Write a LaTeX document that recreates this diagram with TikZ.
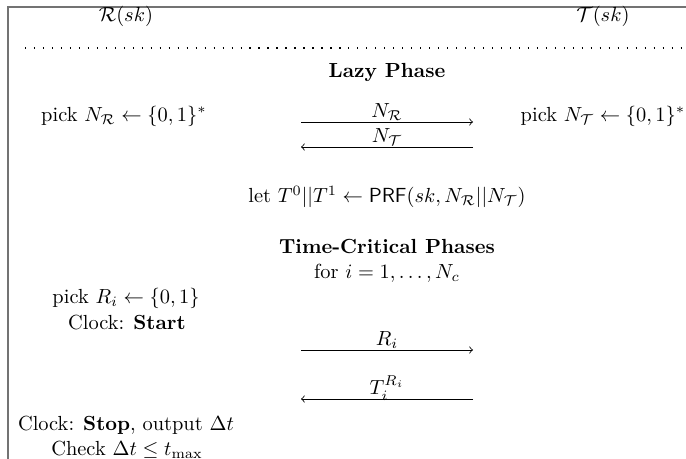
\documentclass[tikz,border=0pt]{standalone}
\usepackage{amsmath,amssymb}
\begin{document}
\begin{tikzpicture}[x=0.49pt,y=-0.49pt,
  lbl/.style={inner sep=0pt, anchor=center},
  msg/.style={->, line width=0.4pt},
  msglbl/.style={midway, anchor=base, yshift=2pt, inner sep=0pt},
  framebox/.style={draw=black!55, line width=1pt},
  dotrule/.style={line width=0.6pt, dash pattern=on 0.6pt off 3.8pt}]
\useasboundingbox (0,0) rectangle (686,459);
\draw[framebox] (8,459) -- (8,7) -- (686,7);
\node[lbl] (R) at (126,16) {$\mathcal{R}(sk)$};
\node[lbl] (T) at (603,16) {$\mathcal{T}(sk)$};
\coordinate (dl) at (25,48);
\coordinate (dr) at (682,48);
\draw[dotrule] (dl) -- (dr);
\node[lbl] (lazy) at (387,72) {\textbf{Lazy Phase}};
\node[lbl] (pnr) at (124,116) {pick $N_{\mathcal{R}} \leftarrow \{0,1\}^*$};
\node[lbl] (pnt) at (603,116) {pick $N_{\mathcal{T}} \leftarrow \{0,1\}^*$};
\coordinate (a1l) at (301,122);
\coordinate (a1r) at (473,122);
\coordinate (a2l) at (301,147);
\coordinate (a2r) at (473,147);
\draw[msg] (a1l) -- node[msglbl] {$N_{\mathcal{R}}$} (a1r);
\draw[msg] (a2r) -- node[msglbl] {$N_{\mathcal{T}}$} (a2l);
\node[lbl] (let) at (387,197) {let $T^0||T^1 \leftarrow \mathsf{PRF}(sk, N_{\mathcal{R}}||N_{\mathcal{T}})$};
\node[lbl] (tc) at (387,247) {\textbf{Time-Critical Phases}};
\node[lbl] (for) at (387,273) {for $i=1,\ldots,N_c$};
\node[lbl] (pri) at (126,298) {pick $R_i \leftarrow \{0,1\}$};
\node[lbl] (cs) at (127,323) {Clock: \textbf{Start}};
\coordinate (b1l) at (301,350);
\coordinate (b1r) at (473,350);
\coordinate (b2l) at (301,399);
\coordinate (b2r) at (473,399);
\draw[msg] (b1l) -- node[msglbl] {$R_i$} (b1r);
\draw[msg] (b2r) -- node[msglbl] {$T_i^{R_i}$} (b2l);
\node[lbl] (cstop) at (126,425) {Clock: \textbf{Stop}, output $\Delta t$};
\node[lbl] (chk) at (127,450) {Check $\Delta t \leq t_{\max}$};
\end{tikzpicture}
\end{document}
